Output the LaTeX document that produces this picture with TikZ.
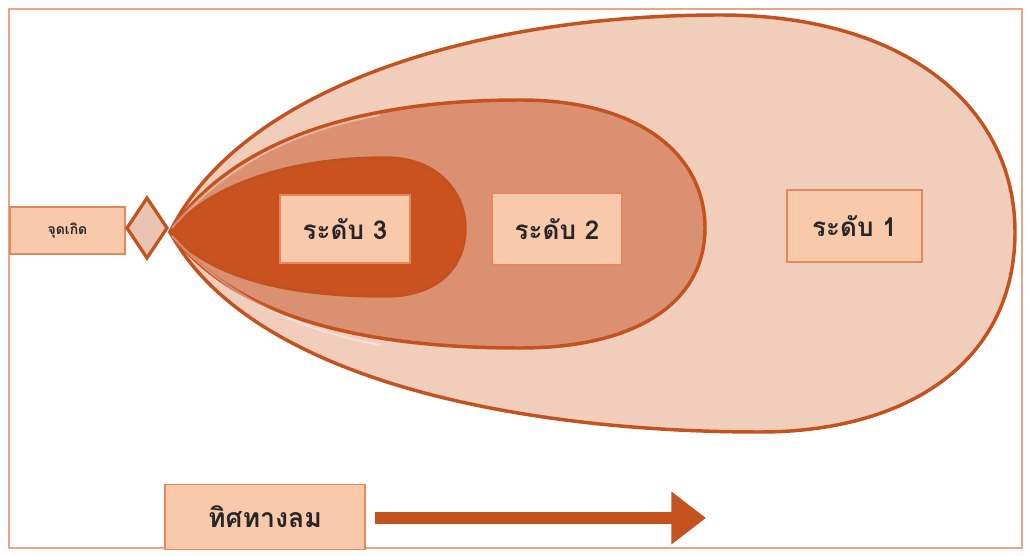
\documentclass[tikz,border=0pt]{standalone}
\usepackage{fontspec}
\newfontfamily\thaifont[Script=Thai]{Loma}
\usetikzlibrary{arrows.meta,shapes.geometric}
\definecolor{frameC}{HTML}{EBA486}
\definecolor{strokeC}{HTML}{C4521F}
\definecolor{fillA}{HTML}{F1CDBC}
\definecolor{fillB}{HTML}{DB9171}
\definecolor{fillC}{HTML}{C9521F}
\definecolor{labelF}{HTML}{F9C9AC}
\definecolor{labelD}{HTML}{E4875A}
\definecolor{diamF}{HTML}{E8C3B2}
\tikzset{
  zone/.style={draw=strokeC, line width=2.6pt, line join=round},
  levelbox/.style={draw=labelD, line width=1.2pt, fill=labelF, font=\thaifont\bfseries\fontsize{19.5}{22}\selectfont, text=black!85, inner sep=0pt},
}
\begin{document}
\begin{tikzpicture}[x=0.75pt,y=-0.75pt]
\useasboundingbox (0,0) rectangle (1029,556);
\fill[white] (0,0) rectangle (1029,556);
% frame
\draw[frameC, line width=1.6pt] (9,9) rectangle (1022,548);
% outer zone
\path[zone, fill=fillA] (170,232) .. controls (240,90) and (470,15) .. (720,15)
  .. controls (910,15) and (1015,110) .. (1015,232)
  .. controls (1015,360) and (910,432) .. (760,432)
  .. controls (520,432) and (250,380) .. (170,232) -- cycle;
% middle zone
\path[zone, fill=fillB] (170,232) .. controls (235,135) and (370,100) .. (520,100)
  .. controls (640,100) and (705,155) .. (705,228)
  .. controls (705,300) and (640,348) .. (520,348)
  .. controls (370,348) and (235,320) .. (170,232) -- cycle;
% inner zone
\path[zone, fill=fillC] (170,232) .. controls (215,180) and (300,158) .. (385,158)
  .. controls (440,158) and (465,195) .. (465,228)
  .. controls (465,265) and (440,296) .. (385,296)
  .. controls (300,296) and (215,282) .. (170,232) -- cycle;
% light streaks near the tip
\draw[white, opacity=0.35, line width=1.5pt] (172,228) .. controls (230,160) and (300,130) .. (380,115);
\draw[white, opacity=0.35, line width=1.5pt] (172,236) .. controls (230,300) and (300,330) .. (380,345);
% source label and point
\node[draw=labelD, line width=1.2pt, fill=labelF, minimum width=86pt, minimum height=35pt, inner sep=0pt,
  font=\thaifont\bfseries\fontsize{10.5}{12}\selectfont, text=black!85] (src) at (67.5,230.5) {จุดเกิด};
\node[diamond, draw=strokeC, line width=2.4pt, fill=diamF, inner sep=0pt,
  minimum width=31pt, minimum height=46pt] (dm) at (147,228) {};
% level labels
\node[levelbox, minimum width=97.5pt, minimum height=51pt] (l3) at (345,229) {ระดับ 3};
\node[levelbox, minimum width=97.5pt, minimum height=54pt] (l2) at (557,229) {ระดับ 2};
\node[levelbox, minimum width=101pt, minimum height=54pt] (l1) at (854.5,226) {ระดับ 1};
% wind direction
\node[draw=labelD, line width=1.2pt, fill=labelF, minimum width=150pt, minimum height=49pt, inner sep=0pt,
  font=\thaifont\bfseries\fontsize{20}{24}\selectfont, text=black!85] (wind) at (265,517) {ทิศทางลม};
\coordinate (a0) at (375,518);
\coordinate (a1) at (706,518);
\draw[strokeC, line width=9pt, -{Triangle[length=26pt, width=38pt]}] (a0) -- (a1);
\end{tikzpicture}
\end{document}
